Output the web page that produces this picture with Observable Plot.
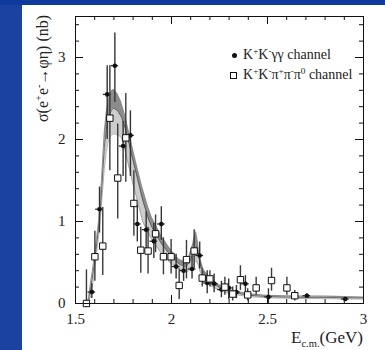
<!DOCTYPE html>
<html><head><meta charset="utf-8">
<script src="https://cdn.jsdelivr.net/npm/d3@7"></script>
<script src="https://cdn.jsdelivr.net/npm/@observablehq/plot@0.6"></script>
<style>
html,body{margin:0;padding:0;}
body{width:385px;height:350px;overflow:hidden;background:#1b42a0;position:relative;font-family:"Liberation Serif","DejaVu Serif",serif;color:#222;}
#topbar{position:absolute;left:0;top:0;width:385px;height:5px;background:#0d3a9c;}
#panel{position:absolute;left:22px;top:5px;width:363px;height:345px;background:#fff;}
#chart{position:absolute;left:0;top:0;}
.lab{position:absolute;white-space:nowrap;line-height:18px;font-family:"Liberation Serif","DejaVu Serif",serif;}
sup{font-size:65%;vertical-align:0.55em;line-height:0;}
sub{font-size:62%;vertical-align:-0.35em;line-height:0;}
</style></head>
<body>
<div id="topbar"></div>
<div id="panel"></div>
<div id="chart"></div>
<script>
// ---- data: K+K- gamma gamma channel (filled dots) ----
const kkggE  = [1.585,1.625,1.665,1.705,1.748,1.786,1.822,1.868,1.908,1.947,2.024,2.063,2.107,2.147,2.186,2.222,2.260,2.298,2.338,2.385,2.505,2.705,2.905];
const kkggV  = [0.14, 1.15, 2.55, 2.90, 1.92, 2.05, 0.97, 0.90, 0.76, 0.97, 0.45, 0.40, 0.42, 0.585,0.25, 0.24, 0.17, 0.19, 0.14, 0.24, 0.08, 0.095,0.055];
const kkggLo = [0.06, 0.86, 2.00, 2.45, 1.55, 1.55, 0.75, 0.65, 0.55, 0.77, 0.30, 0.27, 0.30, 0.42, 0.12, 0.13, 0.07, 0.05, 0.06, 0.14, 0.00, 0.07, 0.04];
const kkggHi = [0.24, 1.42, 2.90, 3.30, 2.22, 2.35, 1.20, 1.12, 0.98, 1.18, 0.60, 0.55, 0.58, 0.75, 0.40, 0.36, 0.27, 0.30, 0.22, 0.34, 0.18, 0.12, 0.07];
// ---- data: K+K- pi+ pi- pi0 channel (open squares) ----
const kk3piE  = [1.557,1.601,1.642,1.679,1.720,1.762,1.804,1.840,1.878,1.917,1.958,1.998,2.040,2.078,2.118,2.160,2.200,2.278,2.319,2.359,2.397,2.441,2.521,2.601,2.642];
const kk3piV  = [0.00, 0.57, 0.70, 2.26, 1.53, 2.02, 1.22, 0.65, 0.64, 0.85, 0.57, 0.57, 0.22, 0.535,0.64, 0.31, 0.30, 0.20, 0.115,0.29, 0.105,0.19, 0.28, 0.19, 0.095];
const kk3piLo = [0.00, 0.27, 0.34, 1.62, 1.03, 1.48, 0.82, 0.37, 0.36, 0.62, 0.35, 0.36, 0.05, 0.30, 0.42, 0.20, 0.20, 0.10, 0.03, 0.16, 0.03, 0.10, 0.15, 0.10, 0.03];
const kk3piHi = [0.41, 0.88, 1.17, 2.90, 2.19, 2.56, 1.62, 0.93, 0.93, 1.08, 0.80, 0.78, 0.42, 0.77, 0.90, 0.42, 0.40, 0.32, 0.20, 0.46, 0.18, 0.32, 0.43, 0.32, 0.16];
const binHalf = 0.02;
// ---- fit curve with uncertainty band ----
const fitE     = [1.565,1.58,1.59,1.60,1.61,1.62,1.63,1.64,1.65,1.66,1.67,1.68,1.69,1.70,1.72,1.74,1.76,1.78,1.80,1.82,1.85,1.88,1.90,1.95,2.00,2.04,2.07,2.09,2.11,2.12,2.13,2.14,2.15,2.17,2.20,2.25,2.30,2.40,2.50,2.60,2.70,2.80,2.90,3.00];
const fitUpper = [0.02,0.28,0.43,0.62,0.80,1.00,1.30,1.70,2.10,2.33,2.48,2.56,2.60,2.61,2.56,2.46,2.30,2.10,1.90,1.70,1.42,1.18,1.05,0.82,0.65,0.54,0.51,0.57,0.72,0.84,0.88,0.75,0.56,0.41,0.32,0.23,0.17,0.12,0.10,0.095,0.09,0.09,0.085,0.08];
const fitMid   = [0.00,0.20,0.35,0.53,0.72,0.92,1.18,1.52,1.90,2.12,2.25,2.32,2.37,2.38,2.35,2.27,2.13,1.94,1.74,1.55,1.26,1.03,0.92,0.72,0.57,0.48,0.45,0.49,0.59,0.67,0.70,0.61,0.47,0.355,0.27,0.195,0.145,0.10,0.085,0.078,0.075,0.075,0.07,0.068];
const fitLower = [0.00,0.10,0.25,0.42,0.62,0.82,1.05,1.35,1.65,1.85,1.97,2.03,2.06,2.07,2.06,2.02,1.85,1.65,1.45,1.28,1.00,0.85,0.77,0.60,0.48,0.42,0.38,0.40,0.45,0.50,0.52,0.47,0.38,0.30,0.22,0.16,0.12,0.085,0.07,0.065,0.06,0.06,0.055,0.055];
// ---- axes ----
const xMajor = [1.5, 2, 2.5, 3];
const xTickLabels = ["1.5", "2", "2.5", "3"];
const xMinor = [1.6,1.7,1.8,1.9,2.1,2.2,2.3,2.4,2.6,2.7,2.8,2.9];
const yMajor = [0, 1, 2, 3];
const yTickLabels = ["0", "1", "2", "3"];
const yMinor = [0.2,0.4,0.6,0.8,1.2,1.4,1.6,1.8,2.2,2.4,2.6,2.8,3.2,3.4];
const xDomain = [1.5, 3];
const yDomain = [0, 3.5];

const kkgg = kkggE.map((E,i)=>({E, v:kkggV[i], lo:kkggLo[i], hi:kkggHi[i]}));
const kk3pi = kk3piE.map((E,i)=>({E, v:kk3piV[i], lo:kk3piLo[i], hi:kk3piHi[i]}));
const fit = fitE.map((E,i)=>({E, lo:fitLower[i], mid:fitMid[i], hi:fitUpper[i]}));

const W=385, H=350, mL=75, mR=22, mT=16, mB=47;
const iW = W-mL-mR, iH = H-mT-mB;
const majLen = 8, minLen = 4;

const plot = Plot.plot({
  width: W, height: H,
  marginLeft: mL, marginRight: mR, marginTop: mT, marginBottom: mB,
  style: {background: "transparent", fontFamily: "'Liberation Serif', 'DejaVu Serif', serif", fontSize: "15px", color: "#222"},
  x: {domain: xDomain},
  y: {domain: yDomain},
  marks: [
    Plot.areaY(fit, {x: "E", y1: "lo", y2: "mid", fill: "#cdcdcd"}),
    Plot.areaY(fit, {x: "E", y1: "mid", y2: "hi", fill: "#8c8c8c"}),
    Plot.line(fit, {x: "E", y: "lo", stroke: "#9a9a9a", strokeWidth: 0.8}),
    Plot.line(fit, {x: "E", y: "mid", stroke: "#505050", strokeWidth: 0.8}),
    Plot.ruleX(kkgg, {x: "E", y1: "lo", y2: "hi", stroke: "#333", strokeWidth: 1.4}),
    Plot.ruleY(kkgg, {y: "v", x1: d => d.E - binHalf, x2: d => d.E + binHalf, stroke: "#222", strokeWidth: 1.2}),
    Plot.ruleX(kk3pi, {x: "E", y1: "lo", y2: "hi", stroke: "#3a3a3a", strokeWidth: 1.4}),
    Plot.dot(kkgg, {x: "E", y: "v", r: 2.3, fill: "#111", stroke: "none"}),
    Plot.dot(kk3pi, {x: "E", y: "v", symbol: "square", r: 3.6, fill: "white", stroke: "#111", strokeWidth: 1}),
    // inward ticks
    Plot.tickX(xMajor, {x: d => d, insetTop: iH - majLen, stroke: "#111"}),
    Plot.tickX(xMinor, {x: d => d, insetTop: iH - minLen, stroke: "#111"}),
    Plot.tickX(xMajor, {x: d => d, insetBottom: iH - majLen, stroke: "#111"}),
    Plot.tickX(xMinor, {x: d => d, insetBottom: iH - minLen, stroke: "#111"}),
    Plot.tickY(yMajor, {y: d => d, insetRight: iW - majLen, stroke: "#111"}),
    Plot.tickY(yMinor, {y: d => d, insetRight: iW - minLen, stroke: "#111"}),
    Plot.tickY(yMajor, {y: d => d, insetLeft: iW - majLen, stroke: "#111"}),
    Plot.tickY(yMinor, {y: d => d, insetLeft: iW - minLen, stroke: "#111"}),
    Plot.frame({stroke: "#111", strokeWidth: 1}),
    Plot.axisX({ticks: xMajor, tickSize: 0, tickPadding: 10, label: null, fontFamily: "Liberation Serif", tickFormat: d => xTickLabels[xMajor.indexOf(d)]}),
    Plot.axisY({ticks: yMajor, tickSize: 0, tickPadding: 10, label: null, fontFamily: "Liberation Serif", tickFormat: d => yTickLabels[yMajor.indexOf(d)]})
  ]
});
document.getElementById("chart").appendChild(plot);

// y-axis title (rotated)
const yt = document.createElement("div");
yt.className = "lab";
yt.style.fontSize = "16px";
yt.innerHTML = "σ(e<sup>+</sup>e<sup>-</sup>→φη) (nb)";
document.body.appendChild(yt);
const w = yt.offsetWidth;
yt.style.left = "34px";
yt.style.top = (15 + w) + "px";
yt.style.transformOrigin = "0 0";
yt.style.transform = "rotate(-90deg)";

// x-axis title
const xt = document.createElement("div");
xt.className = "lab";
xt.style.fontSize = "17px";
xt.style.lineHeight = "20px";
xt.style.right = "22px";
xt.style.top = "328px";
xt.innerHTML = "E<sub>c.m.</sub>(GeV)";
document.body.appendChild(xt);

// legend
const legend = [
  {html: "K<sup>+</sup>K<sup>-</sup>γγ channel", kind: "dot", cy: 55},
  {html: "K<sup>+</sup>K<sup>-</sup>π<sup>+</sup>π<sup>-</sup>π<sup>0</sup> channel", kind: "square", cy: 75}
];
legend.forEach(it => {
  const m = document.createElement("div");
  m.style.position = "absolute";
  if (it.kind === "dot") {
    m.style.left = "231.5px"; m.style.top = (it.cy - 2.5) + "px";
    m.style.width = "5px"; m.style.height = "5px"; m.style.borderRadius = "50%"; m.style.background = "#111";
  } else {
    m.style.left = "229.5px"; m.style.top = (it.cy - 3.5) + "px";
    m.style.width = "5px"; m.style.height = "5px"; m.style.border = "1px solid #111"; m.style.background = "#fff";
  }
  document.body.appendChild(m);
  const t = document.createElement("div");
  t.className = "lab";
  t.style.fontSize = "14px";
  t.style.left = "243px";
  t.style.top = (it.cy - 9) + "px";
  t.innerHTML = it.html;
  document.body.appendChild(t);
});
</script>
</body></html>
